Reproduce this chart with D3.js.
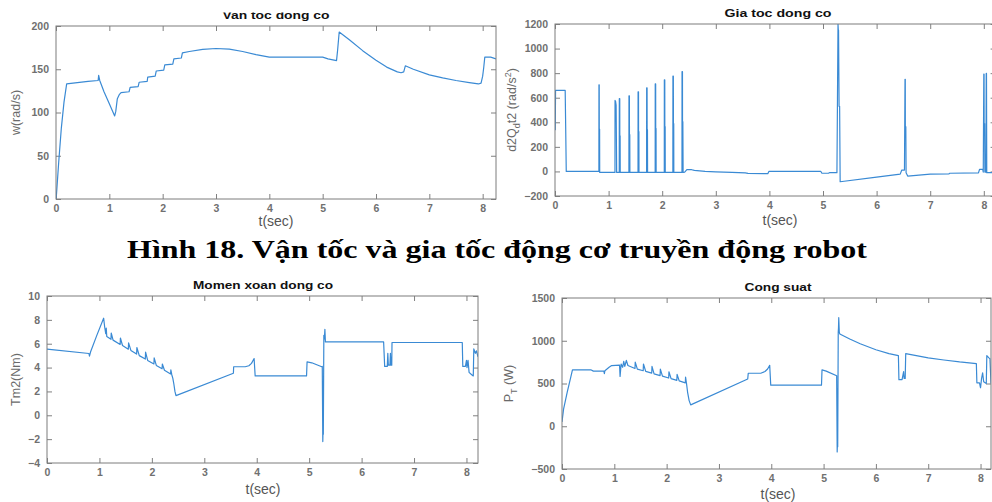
<!DOCTYPE html>
<html>
<head>
<meta charset="utf-8">
<script src="https://cdn.jsdelivr.net/npm/d3@7"></script>
<style>
    body { margin: 0; background: #fff; }
    svg { display: block; }
    .tick text { font-family: "Liberation Sans", Arial, sans-serif; font-size: 10.5px; font-weight: bold; fill: #707070; }
    .tick line { stroke: #808080; }
    .domain { stroke: none; }
    .box { fill: none; stroke: #7d7d7d; stroke-width: 1; }
    .title { font-family: "Liberation Sans", Arial, sans-serif; font-size: 11px; font-weight: bold; fill: #111; }
    .xlabel { font-family: "Liberation Sans", Arial, sans-serif; font-size: 14px; fill: #555; }
    .ylabel { font-family: "Liberation Sans", Arial, sans-serif; font-size: 12.5px; fill: #6a6a6a; }
    .caption { font-family: "Liberation Serif", "Times New Roman", serif; font-size: 26px; font-weight: bold; fill: #000; }
    .trace { fill: none; stroke: #3a8ad4; stroke-width: 1.2; stroke-linejoin: round; }
</style>
</head>
<body>
<div id="chart"></div>
<script>

// ---- data: [t (sec), value] ----
const speedData = [
    [0,0],[0.01,6],[0.05,42],[0.1,82],[0.15,112],[0.2,133],[0.4,134.5],[0.6,136],[0.79,137],[0.8,143],
    [0.82,137],[0.9,124],[1.0,110],[1.1,96],[1.12,101],[1.15,116],[1.19,121],[1.22,123],[1.37,124],[1.39,129],
    [1.54,130],[1.56,135],[1.71,136],[1.72,141],[1.86,142],[1.88,148],[2.02,149],[2.04,155],[2.19,156],[2.21,162],
    [2.35,163],[2.37,169],[2.5,170.5],[2.75,173],[3.0,174],[3.25,173.2],[3.5,170.5],[3.75,167],[4.0,164],[4.5,164],
    [5.0,164],[5.1,162],[5.26,160],[5.28,172],[5.31,193],[5.5,184],[5.75,171.5],[6.0,160.5],[6.2,152.5],[6.4,147],
    [6.47,146],[6.52,147],[6.55,154],[6.7,150],[7.0,143.5],[7.25,140],[7.5,137],[7.75,134.5],[7.92,133],[7.97,134],
    [8.0,142],[8.02,152],[8.04,164],[8.15,164],[8.25,162]
];

const accelData = [
    [0,340],[0.005,340],[0.01,660],[0.19,660],[0.2,340],[0.21,0],[0.819,0],
    [0.82,705],[0.825,705],[0.826,345],[0.832,345],[0.834,-8],[1.119,-8],
    [1.12,578],[1.13,570],[1.14,540],[1.145,270],[1.15,-8],[1.199,-8],
    [1.2,592],[1.208,592],[1.209,290],[1.215,290],[1.217,-8],[1.379,-8],
    [1.38,615],[1.388,615],[1.389,300],[1.395,300],[1.397,-8],[1.549,-8],
    [1.55,648],[1.558,648],[1.559,325],[1.565,325],[1.567,-8],[1.709,-8],
    [1.71,680],[1.718,680],[1.719,340],[1.725,340],[1.727,-8],[1.869,-8],
    [1.87,712],[1.878,712],[1.879,350],[1.885,350],[1.887,-8],[2.039,-8],
    [2.04,745],[2.048,745],[2.049,365],[2.055,365],[2.057,-8],[2.199,-8],
    [2.2,775],[2.208,775],[2.209,390],[2.215,390],[2.217,-8],[2.369,-8],
    [2.37,812],[2.378,812],[2.379,405],[2.385,405],[2.39,-8],
    [2.42,-5],[2.46,14],[2.55,14],[2.6,8],[2.8,0],[3.0,-4],[3.3,-8],[3.55,-12],[3.6,-16],[3.97,-18],
    [3.99,0],[4.96,0],[4.98,-15],[5.1,-15],[5.12,-10],[5.26,-10],[5.27,590],[5.28,1200],[5.285,1150],[5.29,1150],
    [5.3,530],[5.31,530],[5.32,-84],[6.0,-47],[6.44,-22],[6.47,11],[6.52,11],[6.53,750],[6.535,750],[6.536,364],
    [6.545,364],[6.55,-10],[6.58,-38],[7.0,-22],[7.35,-20],[7.36,-15],[7.9,-12],[7.92,16],[7.98,16],[7.99,-5],
    [8.0,792],[8.005,792],[8.006,390],[8.015,390],[8.02,-5],[8.04,-5],[8.045,798],[8.05,798],[8.055,-10],[8.2,-10]
];

const torqueData = [
    [0,5.54],[0.8,5.18],[0.81,4.96],[0.83,5.3],[0.95,6.7],[1.08,8.14],[1.1,7.4],[1.12,6.85],[1.13,7.3],[1.14,6.6],
    [1.22,6.37],[1.225,6.9],[1.26,6.3],[1.395,5.94],[1.4,6.48],[1.44,5.85],[1.551,5.54],[1.556,6.07],[1.6,5.44],
    [1.709,5.13],[1.714,5.68],[1.76,5.0],[1.875,4.71],[1.88,5.29],[1.92,4.6],[2.039,4.3],[2.044,4.82],[2.085,4.18],
    [2.195,3.9],[2.2,4.3],[2.24,3.78],[2.357,3.47],[2.362,3.8],[2.38,3.4],[2.4,3.1],[2.42,2.6],[2.44,2.0],[2.46,1.65],
    [3.555,3.52],[3.56,4.07],[3.78,4.07],[3.85,4.15],[3.9,4.35],[3.95,4.76],[3.97,3.3],[4.95,3.3],[4.96,4.47],[5.05,4.4],
    [5.24,4.07],[5.25,4.1],[5.26,-2.2],[5.265,-1.2],[5.27,-1.6],[5.28,6.7],[5.29,6.4],[5.3,7.2],[5.31,6.15],[6.42,6.15],
    [6.44,4.1],[6.49,4.1],[6.5,5.2],[6.51,4.2],[6.54,4.2],[6.55,5.2],[6.56,4.2],[6.575,4.2],[6.58,6.1],[7.92,6.1],
    [7.93,4.1],[7.98,4.1],[8.0,4.6],[8.01,4.0],[8.03,4.6],[8.05,3.6],[8.1,3.4],[8.13,3.3],[8.14,5.57],[8.17,5.2],
    [8.19,5.4],[8.22,4.9]
];

const powerData = [
    [0,50],[0.03,200],[0.1,400],[0.17,580],[0.2,660],[0.55,660],[0.6,645],[0.8,645],[0.81,615],[0.82,650],
    [0.9,690],[0.95,710],[1.1,715],[1.11,583],[1.13,727],[1.16,690],[1.18,758],[1.2,700],[1.23,770],[1.26,710],
    [1.395,676],[1.4,750],[1.44,668],[1.552,649],[1.557,728],[1.6,641],[1.715,621],[1.72,700],[1.76,613],
    [1.875,593],[1.88,668],[1.92,586],[2.039,564],[2.044,637],[2.085,557],[2.195,537],[2.2,607],[2.24,530],
    [2.357,508],[2.362,575],[2.38,500],[2.4,400],[2.43,300],[2.46,250],[3.55,552],[3.56,620],[3.8,620],[3.88,640],
    [3.93,670],[3.97,712],[3.99,480],[4.96,480],[4.97,660],[5.05,645],[5.25,590],[5.26,-300],[5.265,-180],[5.27,-240],
    [5.28,1100],[5.285,1150],[5.29,1270],[5.3,1100],[5.31,1080],[5.5,1020],[5.7,965],[6.0,895],[6.25,850],[6.43,826],
    [6.44,545],[6.5,545],[6.53,640],[6.54,560],[6.56,560],[6.57,850],[7.0,800],[7.3,775],[7.6,752],[7.92,733],
    [7.93,508],[7.98,508],[8.0,450],[8.02,560],[8.04,625],[8.06,520],[8.11,500],[8.12,826],[8.16,800],[8.18,790],
    [8.2,500]
];

// tick values
const timeTicks = [0, 1, 2, 3, 4, 5, 6, 7, 8];
const speedTicks = [0, 50, 100, 150, 200];
const accelTicks = [-200, 0, 200, 400, 600, 800, 1000, 1200];
const torqueTicks = [-4, -2, 0, 2, 4, 6, 8, 10];
const powerTicks = [-500, 0, 500, 1000, 1500];

const captionText = "Hình 18. Vận tốc và gia tốc động cơ truyền động robot";


class LinePanel {

    constructor(svg, id, config, data) {
        this.svg = svg;
        this.id = id;
        this.config = config;
        this.data = data;

        this.initVis();
    }

    initVis() {
        let vis = this;
        let c = vis.config;

        vis.width = c.right - c.left;
        vis.height = c.bottom - c.top;

        vis.x = d3.scaleLinear().domain(c.xDomain).range([0, vis.width]);
        vis.y = d3.scaleLinear().domain(c.yDomain).range([vis.height, 0]);

        vis.g = vis.svg.append("g")
            .attr("transform", `translate(${c.left}, ${c.top})`);

        vis.g.append("clipPath")
            .attr("id", "clip-" + vis.id)
            .append("rect")
            .attr("width", vis.width)
            .attr("height", vis.height);

        // axes, MATLAB style: ticks inside on all four sides
        vis.g.append("g")
            .attr("transform", `translate(0, ${vis.height})`)
            .call(d3.axisBottom(vis.x).tickValues(timeTicks).tickSize(-5).tickSizeOuter(0).tickPadding(6).tickFormat(d3.format("d")));
        vis.g.append("g")
            .call(d3.axisTop(vis.x).tickValues(timeTicks).tickSize(-5).tickSizeOuter(0).tickFormat(""));
        vis.g.append("g")
            .call(d3.axisLeft(vis.y).tickValues(c.yTicks).tickSize(-5).tickSizeOuter(0).tickPadding(7).tickFormat(d3.format("d")));
        vis.g.append("g")
            .attr("transform", `translate(${vis.width}, 0)`)
            .call(d3.axisRight(vis.y).tickValues(c.yTicks).tickSize(-5).tickSizeOuter(0).tickFormat(""));

        vis.line = d3.line()
            .x(d => vis.x(d[0]))
            .y(d => vis.y(d[1]));

        vis.g.append("path")
            .datum(vis.data)
            .attr("class", "trace")
            .attr("clip-path", `url(#clip-${vis.id})`)
            .attr("d", vis.line);

        vis.g.append("rect")
            .attr("class", "box")
            .attr("width", vis.width)
            .attr("height", vis.height);

        // title (the top one is cropped in the source image)
        let title = vis.svg.append("text")
            .attr("class", "title")
            .attr("x", c.titleX)
            .attr("y", c.titleY)
            .attr("text-anchor", "middle")
            .attr("textLength", c.titleWidth)
            .attr("lengthAdjust", "spacingAndGlyphs")
            .text(c.title);

        if (c.titleCrop) {
            vis.svg.append("clipPath")
                .attr("id", "tclip-" + vis.id)
                .append("rect")
                .attr("x", 0)
                .attr("y", c.titleCrop)
                .attr("width", 992)
                .attr("height", 40);
            title.attr("clip-path", `url(#tclip-${vis.id})`);
        }

        // x label
        vis.svg.append("text")
            .attr("class", "xlabel")
            .attr("x", c.xLabelX)
            .attr("y", c.xLabelY)
            .attr("text-anchor", "middle")
            .text("t(sec)");

        // y label with sub / superscripts
        let yl = vis.svg.append("text")
            .attr("class", "ylabel")
            .attr("text-anchor", "middle")
            .attr("transform", `translate(${c.yLabelX}, ${(c.top + c.bottom) / 2}) rotate(-90)`);

        let shift = 0;
        c.yLabel.forEach(part => {
            let target = part[1] === "sub" ? 4 : part[1] === "sup" ? -5 : 0;
            yl.append("tspan")
                .attr("dy", target - shift)
                .style("font-size", part[1] ? "9px" : null)
                .text(part[0]);
            shift = target;
        });
    }
}


let svg = d3.select("#chart").append("svg")
    .attr("width", 992)
    .attr("height", 502);

new LinePanel(svg, "speed", {
    left: 56, right: 496, top: 26, bottom: 199,
    xDomain: [0, 8.25], yDomain: [0, 200], yTicks: speedTicks,
    title: "Van toc dong co", titleX: 276, titleY: 19, titleWidth: 107, titleCrop: 12.5,
    xLabelX: 276, xLabelY: 226,
    yLabel: [["w(rad/s)"]], yLabelX: 20
}, speedData);

new LinePanel(svg, "accel", {
    left: 555, right: 995.6, top: 24, bottom: 196,
    xDomain: [0, 8.22], yDomain: [-200, 1200], yTicks: accelTicks,
    title: "Gia toc dong co", titleX: 778, titleY: 17, titleWidth: 107,
    xLabelX: 780, xLabelY: 225,
    yLabel: [["d2Q"], ["d", "sub"], ["t2 (rad/s"], ["2", "sup"], [")"]], yLabelX: 516
}, accelData);

new LinePanel(svg, "torque", {
    left: 47, right: 478, top: 296, bottom: 463,
    xDomain: [0, 8.22], yDomain: [-4, 10], yTicks: torqueTicks,
    title: "Momen xoan dong co", titleX: 263, titleY: 289, titleWidth: 140,
    xLabelX: 263, xLabelY: 494,
    yLabel: [["Tm2(Nm)"]], yLabelX: 20
}, torqueData);

new LinePanel(svg, "power", {
    left: 562, right: 991, top: 298, bottom: 469,
    xDomain: [0, 8.2], yDomain: [-500, 1500], yTicks: powerTicks,
    title: "Cong suat", titleX: 778, titleY: 291, titleWidth: 67,
    xLabelX: 778, xLabelY: 499,
    yLabel: [["P"], ["T", "sub"], [" (W)"]], yLabelX: 513
}, powerData);

// figure caption
svg.append("text")
    .attr("class", "caption")
    .attr("x", 497)
    .attr("y", 258)
    .attr("text-anchor", "middle")
    .attr("textLength", 740)
    .attr("lengthAdjust", "spacingAndGlyphs")
    .text(captionText);

</script>
</body>
</html>
